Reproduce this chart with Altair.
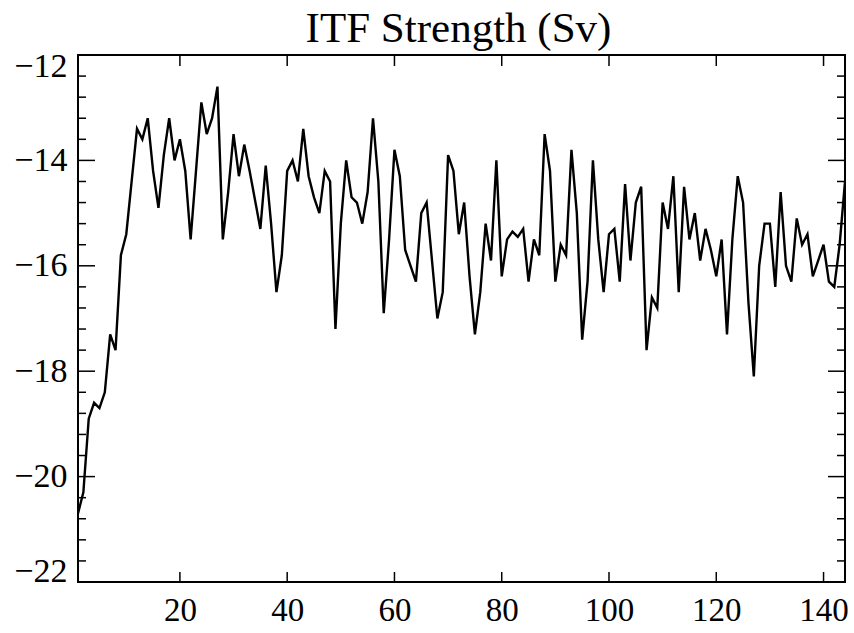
import altair as alt
import pandas as pd

# ---- data ----
months = list(range(1, 145))
itf = [
    -20.7, -20.3, -18.9, -18.6, -18.7, -18.4, -17.3, -17.6, -15.8, -15.4,
    -14.4, -13.4, -13.6, -13.2, -14.2, -14.9, -13.9, -13.2, -14.0, -13.6,
    -14.2, -15.5, -14.2, -12.9, -13.5, -13.2, -12.6, -15.5, -14.6, -13.5,
    -14.3, -13.7, -14.2, -14.75, -15.3, -14.1, -15.2, -16.5, -15.8, -14.2,
    -14.0, -14.4, -13.4, -14.3, -14.7, -15.0, -14.2, -14.4, -17.2, -15.2,
    -14.0, -14.7, -14.8, -15.2, -14.6, -13.2, -14.4, -16.9, -15.5, -13.8,
    -14.3, -15.7, -16.0, -16.3, -15.0, -14.8, -15.9, -17.0, -16.5, -13.9,
    -14.2, -15.4, -14.8, -16.2, -17.3, -16.5, -15.2, -15.9, -14.0, -16.2,
    -15.5, -15.35, -15.45, -15.3, -16.3, -15.5, -15.8, -13.5, -14.2, -16.3,
    -15.6, -15.8, -13.8, -15.0, -17.4, -16.3, -14.0, -15.5, -16.5, -15.4,
    -15.3, -16.3, -14.45, -15.9, -14.8, -14.5, -17.6, -16.6, -16.8, -14.8,
    -15.3, -14.3, -16.5, -14.5, -15.5, -15.0, -15.9, -15.3, -15.7, -16.2,
    -15.5, -17.3, -15.5, -14.3, -14.8, -16.7, -18.1, -16.0, -15.2, -15.2,
    -16.4, -14.6, -16.0, -16.3, -15.1, -15.6, -15.4, -16.2, -15.9, -15.6,
    -16.3, -16.4, -15.6, -14.4,
]
x_major_ticks = [20, 40, 60, 80, 100, 120, 140]
y_major_ticks = [-22, -20, -18, -16, -14, -12]
y_minor_ticks = [-21.6, -21.2, -20.8, -20.4, -19.6, -19.2, -18.8, -18.4,
                 -17.6, -17.2, -16.8, -16.4, -15.6, -15.2, -14.8, -14.4,
                 -13.6, -13.2, -12.8, -12.4]
title_text = "ITF Strength (Sv)"

W, H = 767, 527
FONT = "Liberation Serif"

df = pd.DataFrame({"t": months, "v": itf})
xmaj = pd.DataFrame({"t": x_major_ticks})
ymaj = pd.DataFrame({"v": y_major_ticks})
ymin = pd.DataFrame({"v": y_minor_ticks})
tdf = pd.DataFrame({"label": [title_text]})

xscale = alt.Scale(domain=[1, 144], nice=False, zero=False)
yscale = alt.Scale(domain=[-22, -12], nice=False, zero=False)

line = alt.Chart(df).mark_line(color="black", strokeWidth=2.4, clip=True).encode(
    x=alt.X("t:Q", scale=xscale, title=None,
            axis=alt.Axis(values=x_major_ticks, format="d", labelPadding=12,
                          labelFont=FONT, labelFontSize=33, labelColor="black",
                          domain=False, ticks=False, grid=False)),
    y=alt.Y("v:Q", scale=yscale, title=None,
            axis=alt.Axis(values=y_major_ticks, format="d", labelPadding=11,
                          labelFlush=True, labelFlushOffset=6,
                          labelFont=FONT, labelFontSize=34, labelColor="black",
                          domain=False, ticks=False, grid=False)),
)

def yrule(data, x0, x1):
    return alt.Chart(data).mark_rule(color="black", strokeWidth=1.5).encode(
        y=alt.Y("v:Q", scale=yscale, title=None),
        x=alt.value(x0), x2=alt.value(x1))

def xrule(data, y0, y1):
    return alt.Chart(data).mark_rule(color="black", strokeWidth=1.5).encode(
        x=alt.X("t:Q", scale=xscale, title=None),
        y=alt.value(y0), y2=alt.value(y1))

title_mark = alt.Chart(tdf).mark_text(
    font=FONT, fontSize=43, color="black", align="center", baseline="alphabetic"
).encode(text="label:N", x=alt.value(W / 2 - 3), y=alt.value(-13))

layers = [
    line,
    yrule(ymaj, 0, 17), yrule(ymin, 0, 8),
    yrule(ymaj, W, W - 17), yrule(ymin, W, W - 8),
    xrule(xmaj, H, H - 10), xrule(xmaj, 0, 11),
    title_mark,
]

chart = alt.layer(*layers).properties(
    width=W, height=H,
    autosize=alt.AutoSizeParams(type="none"),
    padding={"left": 78, "top": 55, "right": 9, "bottom": 51},
    background="white",
).configure_view(stroke="black", strokeWidth=2)

chart.save("out.html", embed_options={"renderer": "svg", "actions": False})
